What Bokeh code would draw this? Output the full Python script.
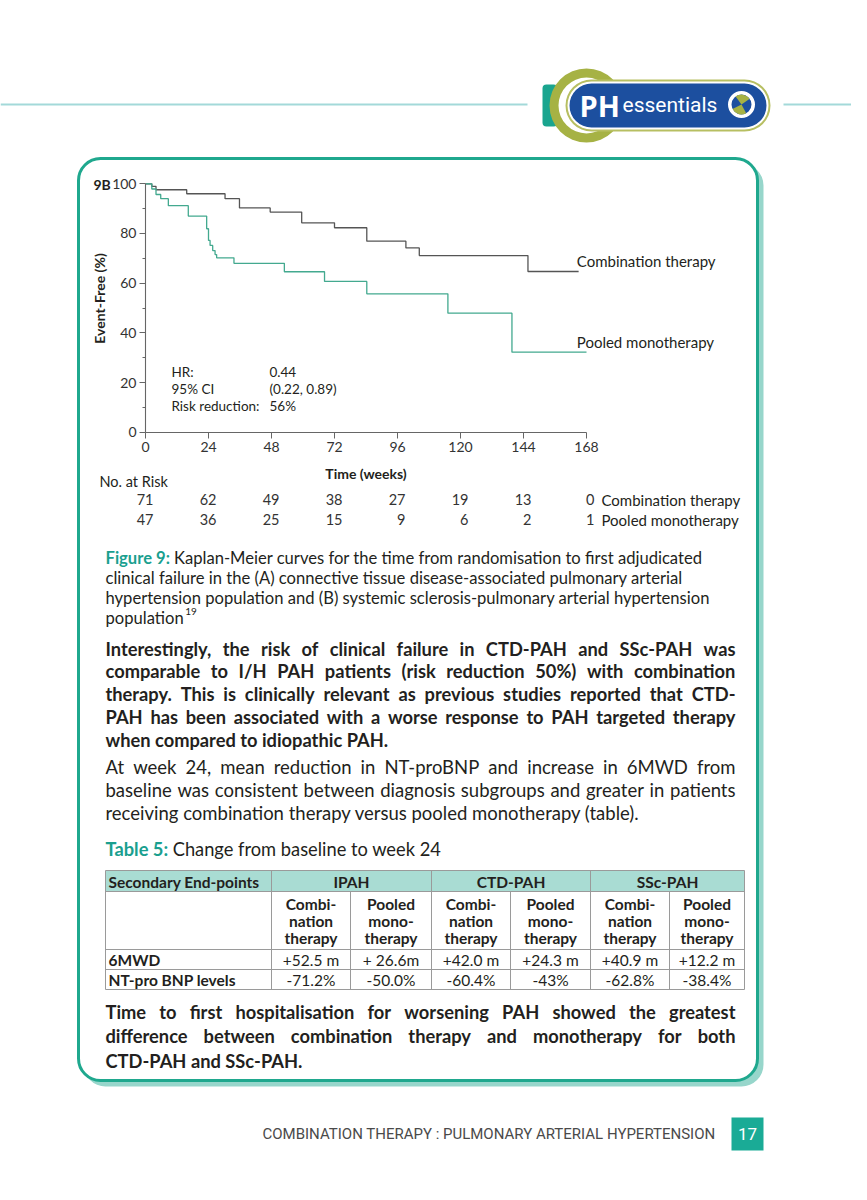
import math
import os
import glob
import subprocess
from bokeh.plotting import figure
from bokeh.models import Range1d, LinearAxis, FixedTicker
from bokeh.core.properties import value
from bokeh.embed import file_html
from bokeh.resources import INLINE

# ---------------- data ----------------
combo_weeks = [0, 2.4, 4.0, 15.7, 30.3, 35.8, 47.5, 59.5, 72.0, 84.3, 99.2, 104.3, 145.7, 165.0]
combo_event_free = [100, 99.0, 97.6, 96.0, 94.0, 90.3, 88.6, 84.3, 82.3, 76.9, 74.2, 71.1, 64.7, 64.7]
mono_weeks = [0, 2.4, 4.0, 5.8, 8.7, 16.3, 23.3, 24.0, 24.6, 25.6, 26.5, 27.1, 33.7, 52.9, 68.2,
              84.3, 115.2, 139.6, 168.0]
mono_event_free = [100, 97.9, 95.7, 94.0, 91.2, 87.0, 81.9, 77.2, 75.2, 73.1, 71.5, 70.2, 68.0, 64.6,
                   60.7, 55.7, 47.9, 32.2, 32.2]
x_ticks = [0, 24, 48, 72, 96, 120, 144, 168]
y_ticks = [0, 20, 40, 60, 80, 100]
y_minor = [10, 30, 50, 70, 90]
risk_combo = [71, 62, 49, 38, 27, 19, 13, 0]
risk_mono = [47, 36, 25, 15, 9, 6, 2, 1]
series_names = ["Combination therapy", "Pooled monotherapy"]
stats_labels = ["HR:", "95% CI", "Risk reduction:"]
stats_values = ["0.44", "(0.22, 0.89)", "56%"]

table_groups = ["IPAH", "CTD-PAH", "SSc-PAH"]
table_sub = [["Combi-", "nation", "therapy"], ["Pooled", "mono-", "therapy"]]
table_rows = ["6MWD", "NT-pro BNP levels"]
table_6mwd = ["+52.5 m", "+ 26.6m", "+42.0 m", "+24.3 m", "+40.9 m", "+12.2 m"]
table_ntprobnp = ["-71.2%", "-50.0%", "-60.4%", "-43%", "-62.8%", "-38.4%"]

caption_head = "Figure 9:"
caption_lines = [
    "Kaplan-Meier curves for the time from randomisation to first adjudicated",
    "clinical failure in the (A) connective tissue disease-associated pulmonary arterial",
    "hypertension population and (B) systemic sclerosis-pulmonary arterial hypertension",
    "population",
]
caption_ref = "19"
bold_lines = [
    "Interestingly, the risk of clinical failure in CTD-PAH and SSc-PAH was",
    "comparable to I/H PAH patients (risk reduction 50%) with combination",
    "therapy. This is clinically relevant as previous studies reported that CTD-",
    "PAH has been associated with a worse response to PAH targeted therapy",
    "when compared to idiopathic PAH.",
]
reg_lines = [
    "At week 24, mean reduction in NT-proBNP and increase in 6MWD from",
    "baseline was consistent between diagnosis subgroups and greater in patients",
    "receiving combination therapy versus pooled monotherapy (table).",
]
table_head = "Table 5:"
table_title = "Change from baseline to week 24"
final_lines = [
    "Time to first hospitalisation for worsening PAH showed the greatest",
    "difference between combination therapy and monotherapy for both",
    "CTD-PAH and SSc-PAH.",
]
footer_text = "COMBINATION THERAPY : PULMONARY ARTERIAL HYPERTENSION"
page_number = "17"

# ---------------- styles ----------------
INK = "#231f20"
TEAL = "#1fa88e"
TEAL_TXT = "#1a9f8f"
GRID = "#9a9a9a"
FONT = "Lato"

# ---------------- text measuring (for justified lines) ----------------
try:
    from PIL import ImageFont
except Exception:
    ImageFont = None

_fonts = {}


def _font_file(family, bold):
    want = family.replace(" ", "").lower()
    try:
        out = subprocess.run(["fc-match", "-f", "%{file}", f"{family}:{'bold' if bold else 'regular'}"],
                             capture_output=True, text=True, timeout=10).stdout.strip()
        if out and want in os.path.basename(out).lower().replace(" ", ""):
            return out
    except Exception:
        pass
    name = family.replace(" ", "") + ("-Bold" if bold else "-Regular")
    for f in glob.glob("/usr/share/fonts/**/*.[to]tf", recursive=True):
        if os.path.basename(f).lower().startswith(name.lower()):
            return f
    return None


def text_width(s, size, bold=False, family=FONT):
    key = (family, bold)
    if key not in _fonts:
        f = None
        if ImageFont is not None:
            path = _font_file(family, bold)
            if path:
                try:
                    f = ImageFont.truetype(path, 100)
                except Exception:
                    f = None
        _fonts[key] = f
    f = _fonts[key]
    if f is None:
        return None
    return f.getlength(s) * size / 100.0


# page figure: data units == screenshot pixels
p = figure(width=851, height=1184, x_range=Range1d(0, 851), y_range=Range1d(1184, 0),
           output_backend="svg", toolbar_location=None, x_axis_type=None, y_axis_type=None,
           min_border=0, outline_line_color=None, background_fill_color="white",
           border_fill_color="white")


def put(x, y, s, size, font=FONT, style="normal", color=INK, align="left", baseline="middle",
        angle=0.0, xr="default", yr="default", y_off=0, x_off=0):
    p.text(x=[x], y=[y], text=[s], text_font=value(font), text_font_size=value(f"{size}px"),
           text_font_style=value(style), text_color=color, text_align=value(align),
           text_baseline=value(baseline), angle=angle, x_range_name=xr, y_range_name=yr,
           y_offset=y_off, x_offset=x_off)


def para_line(x_left, x_right, y, line, size, bold=False, justify=False, color=INK):
    style = "bold" if bold else "normal"
    words = line.split(" ")
    if justify and len(words) > 1:
        ws = [text_width(w, size, bold) for w in words]
        if None not in ws:
            gap = (x_right - x_left - sum(ws)) / (len(words) - 1)
            if 1.0 < gap < 25.0:
                xs, cur = [], x_left
                for w in ws:
                    xs.append(cur)
                    cur += w + gap
                p.text(x=xs, y=[y] * len(words), text=words, text_font=value(FONT),
                       text_font_size=value(f"{size}px"), text_font_style=value(style),
                       text_color=color, text_align=value("left"), text_baseline=value("middle"))
                return
    put(x_left, y, line, size, style=style, color=color)


def after(x, head, size, bold=True, fallback=0.0):
    w = text_width(head + " ", size, bold)
    return x + w if w is not None else x + fallback


# ---------------- header ----------------
p.segment(x0=[0, 783], y0=[104, 104], x1=[527, 867], y1=[104, 104], line_color="#a3d9d9", line_width=2)
p.quad(left=542, right=557, top=84, bottom=126, fill_color="#1aa58f", line_color=None, border_radius=4)
p.annulus(x=586, y=105, inner_radius=28, outer_radius=37, fill_color="#a6b244", line_color=None)
p.quad(left=565, right=770, top=79, bottom=131, fill_color="#b7bf62", line_color=None, border_radius=26)
p.quad(left=567, right=768, top=81, bottom=129, fill_color="white", line_color=None, border_radius=24)
p.quad(left=569, right=766, top=83, bottom=127, fill_color="#1c4f9f", line_color=None, border_radius=22)
put(579, 105, "PH", 29, font="Open Sans", style="bold", color="white")
put(622, 104, "essentials", 21, font="Roboto", color="white")
p.annulus(x=741, y=104, inner_radius=10, outer_radius=13.5, fill_color="white", line_color=None)
p.wedge(x=741, y=104, radius=10, start_angle=0.6, end_angle=2.2, fill_color="#a6b244", line_color=None)
p.wedge(x=741, y=104, radius=10, start_angle=3.6, end_angle=5.2, fill_color="#a6b244", line_color=None)

# ---------------- content box ----------------
p.quad(left=83, right=763, top=163, bottom=1086, fill_color="#97d6cb", line_color=None, border_radius=22)
p.quad(left=78, right=757, top=158, bottom=1080, fill_color="white", line_color=TEAL, line_width=3,
       border_radius=22)

# ---------------- Kaplan-Meier chart ----------------
X0, X168 = 145.0, 586.0      # page px of week 0 / week 168
Y0, Y100 = 431.7, 183.3      # page px of 0 % / 100 %
sx = (X168 - X0) / 168.0
sy = (Y0 - Y100) / 100.0
p.extra_x_ranges = {"kmx": Range1d((0 - X0) / sx, (851 - X0) / sx)}
p.extra_y_ranges = {"kmy": Range1d((Y0 - 1184) / sy, (Y0 - 0) / sy)}

p.step(combo_weeks, combo_event_free, mode="after", x_range_name="kmx", y_range_name="kmy",
       line_color="#555555", line_width=1.3)
p.step(mono_weeks, mono_event_free, mode="after", x_range_name="kmx", y_range_name="kmy",
       line_color="#43a98f", line_width=1.3)

axis_style = dict(axis_line_color="#666666", axis_line_width=1.1,
                  major_tick_line_color="#666666", minor_tick_line_color="#666666",
                  major_label_text_font=FONT, major_label_text_font_size="14px",
                  major_label_text_color="#333333")
yax = LinearAxis(x_range_name="kmx", y_range_name="kmy", fixed_location=0, bounds=(0, 100),
                 ticker=FixedTicker(ticks=y_ticks, minor_ticks=y_minor),
                 major_tick_out=6, major_tick_in=0, minor_tick_out=3, minor_tick_in=0,
                 major_label_standoff=3, **axis_style)
p.add_layout(yax, "left")
xax = LinearAxis(x_range_name="kmx", y_range_name="kmy", fixed_location=0, bounds=(0, 168),
                 ticker=FixedTicker(ticks=x_ticks, minor_ticks=[]),
                 major_tick_out=6, major_tick_in=0, minor_tick_out=0, minor_tick_in=0,
                 major_label_standoff=4, **axis_style)
p.add_layout(xax, "below")

put(93, 184, "9B", 14, style="bold")
put(99, 298, "Event-Free (%)", 14, style="bold", align="center", angle=math.pi / 2)
put(84, 473, "Time (weeks)", 14, style="bold", align="center", xr="kmx")

for i, (lab, val) in enumerate(zip(stats_labels, stats_values)):
    put(171, 371 + 17 * i, lab, 13.5)
    put(269, 371 + 17 * i, val, 13.5)

put(164.3, combo_event_free[-1], series_names[0], 15, xr="kmx", yr="kmy", y_off=-10)
put(164.3, mono_event_free[-1], series_names[1], 15, xr="kmx", yr="kmy", y_off=-10)

# number at risk
put(99, 481, "No. at Risk", 14.5)
for row, yy in ((risk_combo, 499), (risk_mono, 519)):
    p.text(x=x_ticks, y=[yy] * len(x_ticks), text=[str(v) for v in row], x_range_name="kmx",
           text_font=value(FONT), text_font_size=value("14.5px"), text_color="#333333",
           text_align=value("right"), text_baseline=value("middle"), x_offset=8)
put(601, 499, series_names[0], 15)
put(601, 519, series_names[1], 15)

# ---------------- caption & paragraphs ----------------
CAP = 16.6
put(105, 557, caption_head, CAP, style="bold", color=TEAL_TXT)
for i, line in enumerate(caption_lines):
    x = after(105, caption_head, CAP, True, 73) if i == 0 else 105
    put(x, 557 + 20 * i, line, CAP)
wpop = text_width(caption_lines[-1], CAP)
put(105 + (wpop if wpop is not None else 80) + 1.5, 611, caption_ref, 10)

BOLD = 18.3
for i, line in enumerate(bold_lines):
    para_line(105, 735, 648 + 22.8 * i, line, BOLD, bold=True, justify=i < len(bold_lines) - 1)
REG = 18.5
for i, line in enumerate(reg_lines):
    para_line(105, 735, 766 + 23.2 * i, line, REG, justify=i < len(reg_lines) - 1)

TT = 18.3
put(105, 848, table_head, TT, style="bold", color=TEAL_TXT)
put(after(105, table_head, TT, True, 70), 848, table_title, TT)

# ---------------- table ----------------
cx = [105, 271, 350, 431, 510, 590, 669, 744]
ry = [870, 891, 949, 969, 989]
p.quad(left=cx[0], right=cx[-1], top=ry[0], bottom=ry[1], fill_color="#a9dcd3", line_color=None)
p.segment(x0=[cx[0]] * len(ry), x1=[cx[-1]] * len(ry), y0=ry, y1=ry, line_color=GRID, line_width=1)
full_v = [cx[0], cx[1], cx[3], cx[5], cx[7]]
p.segment(x0=full_v, x1=full_v, y0=[ry[0]] * 5, y1=[ry[-1]] * 5, line_color=GRID, line_width=1)
sub_v = [cx[2], cx[4], cx[6]]
p.segment(x0=sub_v, x1=sub_v, y0=[ry[1]] * 3, y1=[ry[-1]] * 3, line_color=GRID, line_width=1)

TS = 15.5
put(108, 881, "Secondary End-points", TS, style="bold")
for g, name in enumerate(table_groups):
    put((cx[1 + 2 * g] + cx[3 + 2 * g]) / 2, 881, name, TS, style="bold", align="center")
for c in range(6):
    mid = (cx[1 + c] + cx[2 + c]) / 2
    for k, word in enumerate(table_sub[c % 2]):
        put(mid, 903.5 + 17 * k, word, TS, style="bold", align="center")
    put(mid, 959.5, table_6mwd[c], TS, align="center")
    put(mid, 979.5, table_ntprobnp[c], TS, align="center")
put(108, 959.5, table_rows[0], TS, style="bold")
put(108, 979.5, table_rows[1], TS, style="bold")

FIN = 18.3
for i, line in enumerate(final_lines):
    para_line(105, 735, 1011 + 24.5 * i, line, FIN, bold=True, justify=i < len(final_lines) - 1)

# ---------------- footer ----------------
put(262, 1133, footer_text, 15, font="Roboto", color="#4a4a4a")
p.quad(left=731, right=763, top=1117, bottom=1150, fill_color="#1aab96", line_color=None)
put(747, 1133.5, page_number, 17, font="Roboto", color="white", align="center")

open("out.html", "w").write(file_html(p, INLINE))
